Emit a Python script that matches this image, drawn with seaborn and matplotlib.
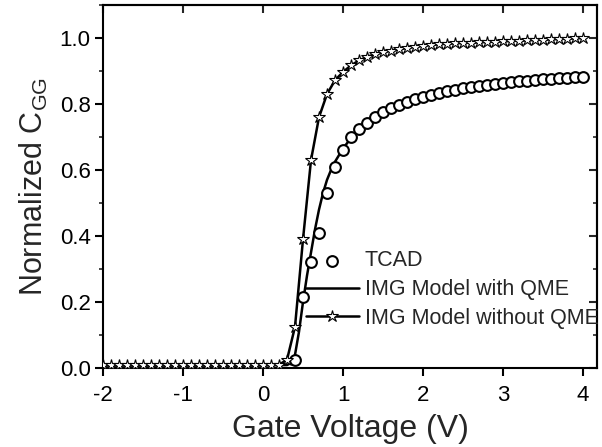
import matplotlib
matplotlib.use("Agg")
import matplotlib.pyplot as plt
import seaborn as sns
from matplotlib.ticker import MultipleLocator

# ---- data ----
tcad_v = [0.4, 0.5, 0.6, 0.7, 0.8, 0.9, 1.0, 1.1, 1.2, 1.3, 1.4, 1.5, 1.6, 1.7, 1.8, 1.9,
          2.0, 2.1, 2.2, 2.3, 2.4, 2.5, 2.6, 2.7, 2.8, 2.9, 3.0, 3.1, 3.2, 3.3, 3.4, 3.5,
          3.6, 3.7, 3.8, 3.9, 4.0]
tcad_c = [0.025, 0.215, 0.32, 0.41, 0.53, 0.61, 0.66, 0.70, 0.724, 0.742, 0.76, 0.775,
          0.787, 0.797, 0.806, 0.814, 0.821, 0.827, 0.833, 0.838, 0.843, 0.848, 0.852,
          0.855, 0.859, 0.862, 0.865, 0.867, 0.869, 0.871, 0.873, 0.875, 0.877, 0.878,
          0.880, 0.881, 0.883]

qme_v = [-2.0, -1.0, 0.0, 0.3, 0.35, 0.4, 0.45, 0.5, 0.55, 0.6, 0.65, 0.7, 0.75, 0.8,
         0.85, 0.9, 0.95, 1.0, 1.1, 1.2, 1.3, 1.4, 1.5, 1.6, 1.8, 2.0, 2.25, 2.5, 2.75,
         3.0, 3.25, 3.5, 3.75, 4.0]
qme_c = [0.008, 0.008, 0.008, 0.009, 0.015, 0.04, 0.11, 0.20, 0.28, 0.35, 0.42, 0.48,
         0.53, 0.57, 0.60, 0.625, 0.645, 0.665, 0.697, 0.722, 0.742, 0.758, 0.772, 0.785,
         0.805, 0.820, 0.836, 0.848, 0.857, 0.865, 0.871, 0.876, 0.880, 0.884]

noqme_v = [-2.0, -1.9, -1.8, -1.7, -1.6, -1.5, -1.4, -1.3, -1.2, -1.1, -1.0, -0.9, -0.8,
           -0.7, -0.6, -0.5, -0.4, -0.3, -0.2, -0.1, 0.0, 0.1, 0.2, 0.3, 0.4, 0.5, 0.6,
           0.7, 0.8, 0.9, 1.0, 1.1, 1.2, 1.3, 1.4, 1.5, 1.6, 1.7, 1.8, 1.9, 2.0, 2.1,
           2.2, 2.3, 2.4, 2.5, 2.6, 2.7, 2.8, 2.9, 3.0, 3.1, 3.2, 3.3, 3.4, 3.5, 3.6,
           3.7, 3.8, 3.9, 4.0]
noqme_c = [0.008, 0.008, 0.008, 0.008, 0.008, 0.008, 0.008, 0.008, 0.008, 0.008, 0.008,
           0.008, 0.008, 0.008, 0.008, 0.008, 0.008, 0.008, 0.008, 0.008, 0.009, 0.009,
           0.010, 0.025, 0.125, 0.39, 0.63, 0.76, 0.83, 0.872, 0.897, 0.917, 0.932,
           0.943, 0.951, 0.957, 0.962, 0.966, 0.970, 0.974, 0.977, 0.979, 0.981, 0.983,
           0.984, 0.985, 0.986, 0.987, 0.988, 0.989, 0.990, 0.991, 0.992, 0.993, 0.994,
           0.995, 0.996, 0.997, 0.998, 0.999, 1.000]

x_ticks = [-2, -1, 0, 1, 2, 3, 4]
y_ticks = [0.0, 0.2, 0.4, 0.6, 0.8, 1.0]
x_label = "Gate Voltage (V)"
y_label = "Normalized C$_{\\mathregular{GG}}$"
labels = ["TCAD", "IMG Model with QME", "IMG Model without QME"]

# ---- style ----
sns.set_style("ticks")
plt.rcParams['font.family'] = ['Liberation Sans', 'DejaVu Sans']
plt.rcParams['mathtext.fontset'] = 'custom'
plt.rcParams['mathtext.rm'] = 'Liberation Sans'

fig = plt.figure(figsize=(6.02, 4.47), dpi=100)
ax = fig.add_axes([0.1711, 0.1767, 0.8206, 0.8121])

sns.scatterplot(x=tcad_v, y=tcad_c, ax=ax, marker='o', s=60, facecolor='white',
                edgecolor='black', linewidth=1.5, label=labels[0], zorder=3)
sns.lineplot(x=qme_v, y=qme_c, ax=ax, color='black', linewidth=1.8, label=labels[1],
             zorder=2)
sns.lineplot(x=noqme_v, y=noqme_c, ax=ax, color='black', linewidth=1.8, marker='*',
             markersize=9, markerfacecolor='white', markeredgecolor='black',
             markeredgewidth=0.8, label=labels[2], zorder=4)

ax.set_xlim(-2, 4.175)
ax.set_ylim(0, 1.1)
ax.set_xticks(x_ticks)
ax.set_xticklabels([str(t) for t in x_ticks])
ax.set_yticks(y_ticks)
ax.set_yticklabels([f"{t:.1f}" for t in y_ticks])
ax.yaxis.set_minor_locator(MultipleLocator(0.1))

for s in ax.spines.values():
    s.set_linewidth(1.5)
    s.set_color('black')

ax.tick_params(axis='both', which='major', direction='out', length=6, width=1.5,
               labelsize=16, colors='black', pad=3)
ax.tick_params(axis='x', which='major', pad=6)
ax.tick_params(axis='both', which='minor', direction='out', length=3, width=1.2)

ax2 = ax.secondary_xaxis('top')
ax2.set_xticks(x_ticks)
ax2.tick_params(direction='in', length=6, width=1.5, labeltop=False)
ax3 = ax.secondary_yaxis('right')
ax3.set_yticks(y_ticks)
ax3.yaxis.set_minor_locator(MultipleLocator(0.1))
ax3.tick_params(which='major', direction='in', length=6, width=1.5, labelright=False)
ax3.tick_params(which='minor', direction='in', length=3, width=1.2, labelright=False)
for a in (ax2, ax3):
    for s in a.spines.values():
        s.set_linewidth(1.5)

ax.set_xlabel(x_label, fontsize=23, labelpad=6)
ax.set_ylabel(y_label, fontsize=22, labelpad=7)

leg = ax.legend(loc='lower left', bbox_to_anchor=(0.41, 0.108), frameon=False,
                fontsize=15.5, handlelength=2.5, handletextpad=0.25, labelspacing=0.36,
                borderaxespad=0.0, borderpad=0.0)

fig.savefig("out.png", dpi=100)
